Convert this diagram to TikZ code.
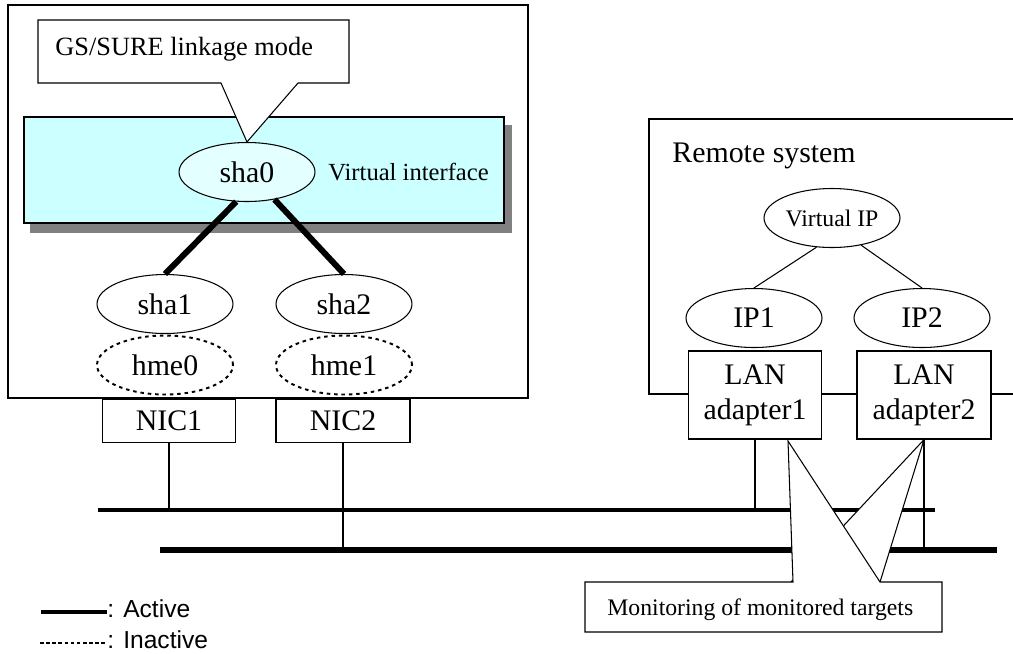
\documentclass[tikz,border=0pt]{standalone}
\usepackage{fontspec}
\setmainfont{Liberation Serif}
\newfontfamily\legendfont{Liberation Sans}
\usetikzlibrary{shapes.geometric, positioning, calc}
\definecolor{vifill}{RGB}{204, 255, 255}
\definecolor{shafill}{RGB}{228, 255, 255}
\definecolor{shadowgray}{RGB}{128, 128, 128}

\begin{document}
\begin{tikzpicture}[
  x=0.02cm, y=-0.02cm,
  hair/.style={line width=0.6pt},
  wire/.style={line width=0.7pt},
  iface/.style={ellipse, draw, line width=0.6pt, minimum width=2.72cm,
                minimum height=1.18cm, inner sep=0pt, font=\fontsize{17}{20}\selectfont},
  idle/.style={iface, line width=1.1pt, dash pattern=on 2pt off 2.2pt},
  card/.style={draw, fill=white, line width=0.7pt, inner sep=0pt, align=center,
               font=\fontsize{17}{20}\selectfont},
  note/.style={inner sep=0pt, anchor=base west},
  bond/.style={line width=3.4pt},
  trunk/.style={line width=2.2pt},
  legtext/.style={note, font=\legendfont\fontsize{14}{16}\selectfont}
]
  \useasboundingbox (0,0) rectangle (1013,653);

  % ── host side ──
  \draw[wire] (8,5) rectangle (528,398);
  \fill[shadowgray] (30,125) rectangle (512,233);
  \draw[wire, fill=vifill] (24,117) rectangle (504,223);

  \node[iface, fill=shafill] (sha0) at (247,172) {sha0};
  \node[note, font=\fontsize{14}{16}\selectfont] (vilbl) at (328,180) {Virtual interface};
  \node[iface] (sha1) at (165,304) {sha1};
  \node[iface] (sha2) at (344,304) {sha2};
  \node[idle] (hme0) at (165,365) {hme0};
  \node[idle] (hme1) at (344,365) {hme1};
  \draw[bond] (sha0.250) -- (sha1.north);
  \draw[bond] (sha0.-45) -- (sha2.north);

  \node[card, minimum width=2.66cm, minimum height=0.86cm] (nic1) at (169,421) {NIC1};
  \node[card, minimum width=2.68cm, minimum height=0.86cm] (nic2) at (343,421) {NIC2};

  % callout on sha0
  \draw[hair, fill=white] (38,20) -- (349,20) -- (349,83) -- (298,83) -- (sha0.north)
    -- (221,83) -- (38,83) -- cycle;
  \node[note, font=\fontsize{15}{17}\selectfont] (gslbl) at (55,55) {GS/SURE linkage mode};

  % ── remote side ──
  \draw[wire] (1014,119) -| (649,394) -- (1014,394);
  \node[note, font=\fontsize{17}{20}\selectfont] (rslbl) at (672,162) {Remote system};
  \node[iface, font=\fontsize{13.5}{16}\selectfont] (vip) at (832,218) {Virtual IP};
  \node[iface] (ip1) at (754,318) {IP1};
  \node[iface] (ip2) at (922,318) {IP2};
  \draw[hair] (vip.242) -- (ip1.north);
  \draw[hair] (vip.-43) -- (ip2.north);
  \node[card, minimum width=2.66cm, minimum height=1.76cm] (lan1) at (755,395) {LAN\\adapter1};
  \node[card, minimum width=2.68cm, minimum height=1.76cm] (lan2) at (924,395) {LAN\\adapter2};

  % ── transmission lines ──
  \coordinate (bus1w) at (98,510);
  \coordinate (bus1e) at (935,510);
  \coordinate (bus2w) at (160,550);
  \coordinate (bus2e) at (997,550);
  \draw[trunk] (bus1w) -- (bus1e);
  \draw[line width=3pt] (bus2w) -- (bus2e);
  \draw[wire] (nic1.south) -- (nic1.south |- bus1w);
  \draw[wire] (nic2.south) -- (nic2.south |- bus2w);
  \draw[wire] (lan1.south) -- (lan1.south |- bus1w);
  \draw[wire] (lan2.south) -- (lan2.south |- bus2w);

  % callout on the adapters
  \coordinate (tip1) at (788,441);
  \coordinate (tip2) at (lan2.south);
  \draw[hair, fill=white] (791,582) -- (tip2) -- (880,582);
  \draw[hair, fill=white] (585,582) -- (793,582) -- (tip1) -- (880,582) -- (942,582)
    -- (942,632) -- (585,632) -- cycle;
  \node[note, font=\fontsize{13.5}{16}\selectfont] (montxt) at (607,615) {Monitoring of monitored targets};

  % ── legend ──
  \node[legtext] (actlbl) at (107,617) {: Active};
  \node[legtext] (inactlbl) at (107,648) {: Inactive};
  \coordinate (actA) at (41,612);
  \coordinate (inactA) at (40,643);
  \draw[trunk] (actA) -- (actA -| actlbl.west);
  \draw[line width=0.9pt, dash pattern=on 2pt off 1.5pt] (inactA) -- (inactA -| inactlbl.west);
\end{tikzpicture}
\end{document}
